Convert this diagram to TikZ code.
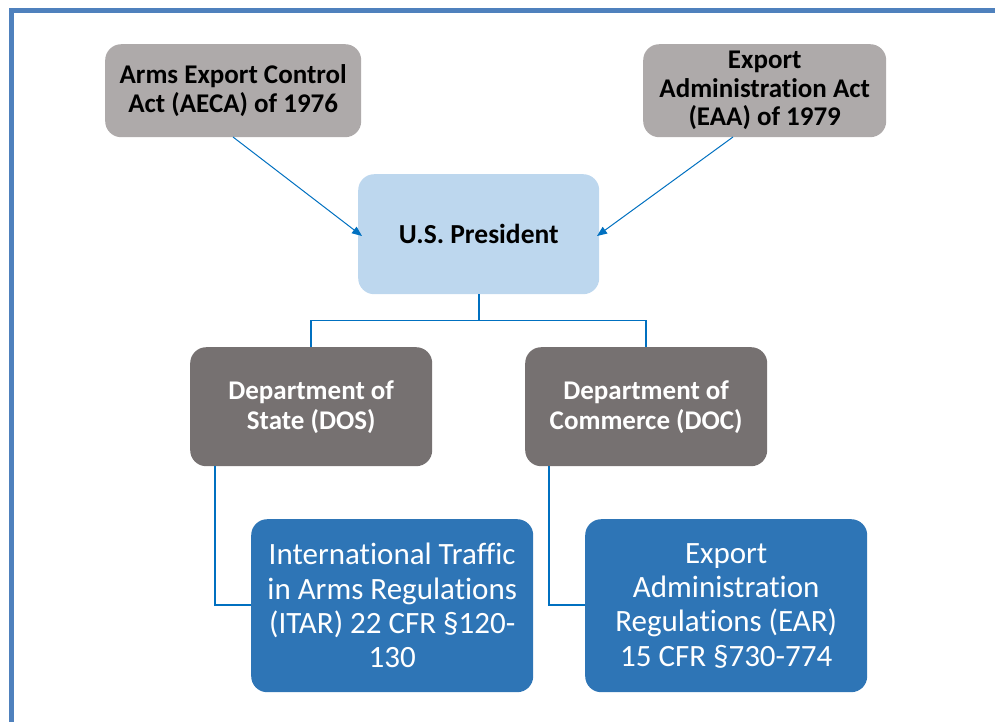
\documentclass[tikz,border=0pt]{standalone}
\usepackage{fontspec}
\setmainfont{Carlito}[Ligatures=NoCommon]
\usetikzlibrary{arrows.meta,calc}
\definecolor{frameblue}{HTML}{4F81BD}
\definecolor{actgray}{HTML}{AEAAAA}
\definecolor{preslight}{HTML}{BDD7EE}
\definecolor{deptgray}{HTML}{767171}
\definecolor{regblue}{HTML}{2E75B6}
\definecolor{linkblue}{HTML}{0070C0}
\begin{document}
\begin{tikzpicture}[x=1pt,y=-1pt,
  box/.style={rounded corners=16pt, align=center, inner sep=0pt, anchor=north west},
  actbox/.style={box, fill=actgray, font=\bfseries\fontsize{27}{28.5}\selectfont, text=black},
  presbox/.style={box, fill=preslight, font=\bfseries\fontsize{27.5}{28}\selectfont, text=black},
  deptbox/.style={box, fill=deptgray, font=\bfseries\fontsize{27}{30}\selectfont, text=white},
  regbox/.style={box, fill=regblue, font=\fontsize{31}{34.3}\selectfont, text=white},
  link/.style={draw=linkblue, line width=1.6pt},
  arr/.style={draw=linkblue, line width=1pt, -{Triangle[length=10pt,width=8pt]}}]
\useasboundingbox (0,0) rectangle (995,721);
\draw[frameblue, line width=5pt] (11,730) -- (11,10) -- (1000,10);
\node[actbox, minimum width=256pt, minimum height=93pt] (aeca) at (105,44) {Arms Export Control\\Act (AECA) of 1976};
\node[actbox, minimum width=243pt, minimum height=93pt] (eaa) at (643,44) {Export\\Administration Act\\(EAA) of 1979};
\node[presbox, minimum width=241pt, minimum height=120pt] (pres) at (358,174) {U.S. President};
\node[deptbox, minimum width=242pt, minimum height=119pt] (dos) at (190,347) {Department of\\State (DOS)};
\node[deptbox, minimum width=242pt, minimum height=119pt] (doc) at (525,347) {Department of\\Commerce (DOC)};
\node[regbox, minimum width=282pt, minimum height=173pt] (itar) at (251,519) {International Traffic\\in Arms Regulations\\(ITAR) 22 CFR §120-\\130};
\node[regbox, minimum width=282pt, minimum height=173pt] (ear) at (585,519) {Export\\Administration\\Regulations (EAR)\\15 CFR §730-774};
\coordinate (pj) at ($(pres.south)+(0,26)$);
\coordinate (dosin) at (311,347);
\coordinate (docin) at (646,347);
\coordinate (dosout) at (215,466);
\coordinate (docout) at (549,466);
\coordinate (itarin) at (251,605);
\coordinate (earin) at (585,605);
\coordinate (aecaout) at (233,137);
\coordinate (eaaout) at (733,137);
\coordinate (presinl) at (362,236);
\coordinate (presinr) at (597,236);
\draw[link] (pres.south) -- (pj) -| (dosin);
\draw[link] (pj) -| (docin);
\draw[link] (dosout) |- (itarin);
\draw[link] (docout) |- (earin);
\draw[arr] (aecaout) -- (presinl);
\draw[arr] (eaaout) -- (presinr);
\end{tikzpicture}
\end{document}
